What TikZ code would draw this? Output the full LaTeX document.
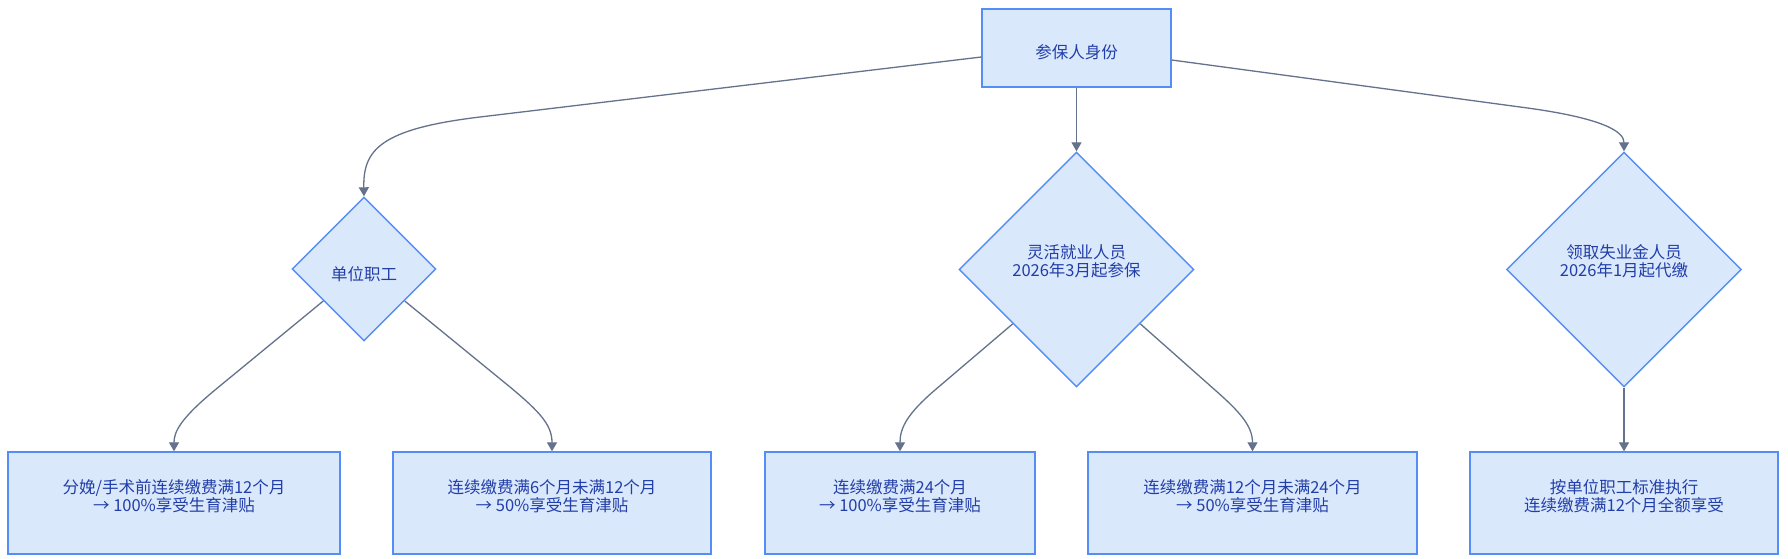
\documentclass[tikz,border=0pt]{standalone}
\usepackage{fontspec}
\setmainfont{Noto Sans CJK SC}
\usetikzlibrary{shapes.geometric,arrows.meta,calc}
\definecolor{boxfill}{RGB}{218,232,252}
\definecolor{boxline}{RGB}{84,142,245}
\definecolor{txt}{RGB}{34,62,168}
\definecolor{edge}{RGB}{100,114,140}
\begin{document}
\begin{tikzpicture}[x=1pt,y=-1pt,
  box/.style={draw=boxline,fill=boxfill,line width=1.4pt,rectangle,inner sep=0pt,minimum height=102pt},
  dia/.style={draw=boxline,fill=boxfill,line width=1.4pt,diamond,inner sep=0pt},
  lbl/.style={text=txt,align=center,inner sep=0pt,font=\fontsize{16.5}{18}\selectfont},
  conn/.style={draw=edge,line width=1.3pt,-{Triangle[length=9pt,width=10pt]}}]
\useasboundingbox[fill=white] (0,0) rectangle (1788,559);
% nodes
\node[box,minimum width=189pt,minimum height=78pt] (top) at (1076.5,48) {};
\node[dia,minimum width=144pt,minimum height=144pt] (d1) at (364,269) {};
\node[dia,minimum width=235pt,minimum height=235pt] (d2) at (1076.5,269.5) {};
\node[dia,minimum width=235pt,minimum height=235pt] (d3) at (1624,269.5) {};
\node[box,minimum width=332pt] (b1) at (174,503) {};
\node[box,minimum width=318pt] (b2) at (552,503) {};
\node[box,minimum width=270pt] (b3) at (900,503) {};
\node[box,minimum width=329pt] (b4) at (1252.5,503) {};
\node[box,minimum width=308pt] (b5) at (1624,503) {};
% labels
\node[lbl] (topt) at (1076.5,52) {参保人身份};
\node[lbl] (d1t) at (364,274) {单位职工};
\node[lbl] (d2t) at (1076.5,261.5) {灵活就业人员\\2026年3月起参保};
\node[lbl] (d3t) at (1624,261.5) {领取失业金人员\\2026年1月起代缴};
\node[lbl] (b1t) at (174,496.5) {分娩/手术前连续缴费满12个月\\→ 100\%享受生育津贴};
\node[lbl] (b2t) at (552,496.5) {连续缴费满6个月未满12个月\\→ 50\%享受生育津贴};
\node[lbl] (b3t) at (900,496.5) {连续缴费满24个月\\→ 100\%享受生育津贴};
\node[lbl] (b4t) at (1252.5,496.5) {连续缴费满12个月未满24个月\\→ 50\%享受生育津贴};
\node[lbl] (b5t) at (1624,496.5) {按单位职工标准执行\\连续缴费满12个月全额享受};
% connectors
\draw[conn] ($(top.west)+(0,9)$) -- (480,117) .. controls (380,129) and (363,150) .. (d1.north);
\draw[conn] (top.south) -- (d2.north);
\draw[conn] ($(top.east)+(0,12)$) -- (1520,107) .. controls (1605,118) and (1624,132) .. (d3.north);
\draw[conn] ($(d1.west)!0.44!(d1.south)$) -- (215,390) .. controls (180,419) and (174,432) .. (b1.north);
\draw[conn] ($(d1.east)!0.44!(d1.south)$) -- (510,387) .. controls (540,412) and (552,425) .. (b2.north);
\draw[conn] ($(d2.west)!0.46!(d2.south)$) -- (935,390) .. controls (907,414) and (900,428) .. (b3.north);
\draw[conn] ($(d2.east)!0.46!(d2.south)$) -- (1215,390) .. controls (1240,412) and (1252.5,426) .. (b4.north);
\draw[conn] (d3.south) -- (b5.north);
\end{tikzpicture}
\end{document}
